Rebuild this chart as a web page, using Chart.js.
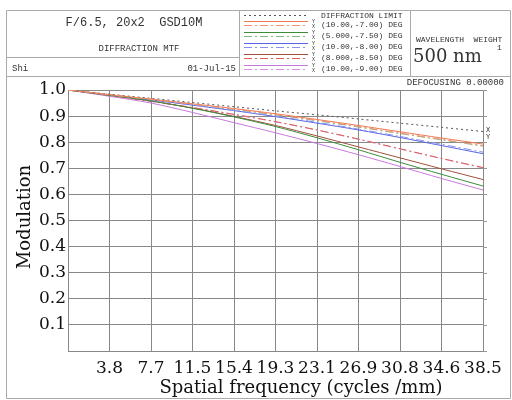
<!DOCTYPE html>
<html>
<head>
<meta charset="utf-8">
<script src="https://cdn.jsdelivr.net/npm/chart.js@4.4.0/dist/chart.umd.min.js"></script>
<style>
  html, body { margin: 0; padding: 0; background: #fff; }
  #wrap { width: 512px; height: 400px; }
</style>
</head>
<body>
<div id="wrap"><canvas id="myChart" width="512" height="400"></canvas></div>
<script>
// spatial frequency samples (cycles/mm)
const freq = [0, 3.85, 7.7, 11.55, 15.4, 19.25, 23.1, 26.95, 30.8, 34.65, 38.5];
const xTicks = [0, 3.85, 7.7, 11.55, 15.4, 19.25, 23.1, 26.95, 30.8, 34.65, 38.5];
const xTickLabels = ['', '3.8', '7.7', '11.5', '15.4', '19.3', '23.1', '26.9', '30.8', '34.6', '38.5'];
const yTicks = [0, 0.1, 0.2, 0.3, 0.4, 0.5, 0.6, 0.7, 0.8, 0.9, 1.0];
const yTickLabels = ['', '0.1', '0.2', '0.3', '0.4', '0.5', '0.6', '0.7', '0.8', '0.9', '1.0'];

const diffLimit = [1, 0.984, 0.968, 0.952, 0.936, 0.920, 0.905, 0.889, 0.873, 0.857, 0.841];
const f1T = [1, 0.982, 0.965, 0.947, 0.929, 0.909, 0.887, 0.864, 0.840, 0.816, 0.793];
const f1S = [1, 0.982, 0.964, 0.946, 0.927, 0.906, 0.884, 0.860, 0.835, 0.811, 0.787];
const f2T = [1, 0.980, 0.958, 0.930, 0.897, 0.860, 0.817, 0.771, 0.723, 0.677, 0.632];
const f2S = [1, 0.982, 0.964, 0.946, 0.926, 0.905, 0.882, 0.858, 0.833, 0.809, 0.785];
const f3T = [1, 0.981, 0.962, 0.942, 0.921, 0.898, 0.873, 0.847, 0.818, 0.787, 0.756];
const f3S = [1, 0.981, 0.962, 0.943, 0.922, 0.900, 0.876, 0.850, 0.822, 0.792, 0.762];
const f4T = [1, 0.980, 0.958, 0.931, 0.899, 0.864, 0.824, 0.782, 0.740, 0.698, 0.657];
const f4S = [1, 0.979, 0.957, 0.933, 0.907, 0.879, 0.847, 0.812, 0.775, 0.738, 0.703];
const f5T = [1, 0.976, 0.950, 0.914, 0.875, 0.836, 0.795, 0.752, 0.707, 0.661, 0.617];
const f5S = [1, 0.979, 0.956, 0.932, 0.906, 0.878, 0.846, 0.811, 0.774, 0.737, 0.701];

const fieldNames = ['(10.00,-7.00) DEG', '(5.000,-7.50) DEG', '(10.00,-8.00) DEG', '(8.000,-8.50) DEG', '(10.00,-9.00) DEG'];
const fieldColors = ['#f07850', '#3c8c3c', '#5a64e6', '#a0503c', '#c878dc'];
const sagColors = ['#f49070', '#80b880', '#8890ee', '#e06050', '#d890e0'];
const tanSeries = [f1T, f2T, f3T, f4T, f5T];
const sagSeries = [f1S, f2S, f3S, f4S, f5S];

const sagDash = [8, 3, 2, 3];
const diffDash = [2, 3];

function pts(arr) {
    return arr.map((v, i) => ({ x: freq[i], y: v }));
}

let datasets = [];
for (let i = 0; i < 5; i++) {
    datasets.push({ data: pts(sagSeries[i]), borderColor: sagColors[i], borderDash: sagDash, borderWidth: 1 });
    datasets.push({ data: pts(tanSeries[i]), borderColor: fieldColors[i], borderWidth: 1 });
}
datasets.push({ data: pts(diffLimit), borderColor: '#555', borderDash: diffDash, borderWidth: 1 });

const mono = '"Liberation Mono", monospace';
const serif = '"DejaVu Serif", serif';

const decor = {
    id: 'decor',
    afterDraw(chart) {
        const c = chart.ctx;
        const area = chart.chartArea;
        const ys = chart.scales.y;
        c.save();
        // grid stubs beyond right edge
        c.strokeStyle = '#999';
        c.lineWidth = 1;
        yTicks.forEach(v => {
            const y = Math.round(ys.getPixelForValue(v)) + 0.5;
            c.beginPath(); c.moveTo(area.right, y); c.lineTo(area.right + 4, y); c.stroke();
        });
        // frame
        c.strokeStyle = '#aaa';
        c.beginPath();
        c.rect(6.5, 10.5, 504, 388);
        c.moveTo(6, 76.5); c.lineTo(511, 76.5);
        c.moveTo(6, 57.5); c.lineTo(239, 57.5);
        c.moveTo(239.5, 10); c.lineTo(239.5, 76);
        c.moveTo(410.5, 10); c.lineTo(410.5, 76);
        c.stroke();

        c.fillStyle = '#333';
        c.textBaseline = 'middle';
        c.textAlign = 'center';
        c.font = '12px ' + mono;
        c.fillText('F/6.5, 20x2  GSD10M', 134, 23);
        c.font = '9px ' + mono;
        c.fillText('DIFFRACTION MTF', 139, 49);
        c.textAlign = 'left';
        c.fillText('Shi', 12, 69);
        c.textAlign = 'right';
        c.fillText('01-Jul-15', 236, 69);

        // legend
        c.font = '8px ' + mono;
        c.textAlign = 'left';
        c.fillText('DIFFRACTION LIMIT', 321, 16);
        c.strokeStyle = '#555';
        c.setLineDash(diffDash);
        c.beginPath(); c.moveTo(244, 15.5); c.lineTo(308, 15.5); c.stroke();
        for (let i = 0; i < 5; i++) {
            const yt = 21.5 + i * 11;
            c.setLineDash([]);
            c.strokeStyle = fieldColors[i];
            c.beginPath(); c.moveTo(244, yt); c.lineTo(308, yt); c.stroke();
            c.setLineDash(sagDash);
            c.strokeStyle = sagColors[i];
            c.beginPath(); c.moveTo(244, yt + 4); c.lineTo(308, yt + 4); c.stroke();
            c.setLineDash([]);
            c.fillStyle = '#333';
            c.font = '8px ' + mono;
            c.fillText(fieldNames[i], 321, 25 + i * 11);
            c.font = '5px ' + mono;
            c.fillText('Y', 312, 22 + i * 11);
            c.fillText('X', 312, 27 + i * 11);
        }
        c.font = '8px ' + mono;
        c.fillText('WAVELENGTH  WEIGHT', 416, 40);
        c.font = '18px ' + serif;
        c.fillText('500 nm', 413, 57);
        c.font = '8px ' + mono;
        c.fillText('1', 497, 48);
        c.textAlign = 'right';
        c.font = '9px ' + mono;
        c.fillText('DEFOCUSING 0.00000', 504, 83);
        c.textAlign = 'left';
        c.font = '7px ' + mono;
        c.fillText('X', area.right + 3, 130);
        c.fillText('Y', area.right + 3, 137);

        // axis titles
        c.fillStyle = '#111';
        c.font = '18px ' + serif;
        c.textAlign = 'center';
        c.fillText('Spatial frequency (cycles /mm)', 301, 388);
        c.translate(25, 217);
        c.rotate(-Math.PI / 2);
        c.fillText('Modulation', 0, 0);
        c.restore();
    }
};

const ctx = document.querySelector('#myChart');
let myChart = new Chart(ctx, {
    type: 'line',
    data: { datasets: datasets },
    options: {
        responsive: false,
        animation: false,
        events: [],
        layout: { padding: { left: 0, top: 90, right: 29, bottom: 0 } },
        elements: { point: { radius: 0 }, line: { tension: 0.3 } },
        plugins: { legend: { display: false }, tooltip: { enabled: false } },
        scales: {
            x: {
                type: 'linear', min: 0, max: 38.5,
                afterBuildTicks: s => { s.ticks = xTicks.map(v => ({ value: v })); },
                afterFit: s => { s.height = 49; },
                grid: { color: '#888', drawTicks: false },
                border: { color: '#888' },
                ticks: {
                    padding: 7, color: '#111', maxRotation: 0, autoSkip: false,
                    font: { family: 'DejaVu Serif', size: 17 },
                    callback: (v, i) => xTickLabels[i]
                }
            },
            y: {
                min: 0, max: 1,
                afterBuildTicks: s => { s.ticks = yTicks.map(v => ({ value: v })); },
                afterFit: s => { s.width = 68; },
                grid: { color: '#888', drawTicks: false },
                border: { color: '#888' },
                ticks: {
                    padding: 2, color: '#111', autoSkip: false,
                    font: { family: 'DejaVu Serif', size: 17 },
                    callback: (v, i) => yTickLabels[i]
                }
            }
        }
    },
    plugins: [decor]
});
</script>
</body>
</html>
